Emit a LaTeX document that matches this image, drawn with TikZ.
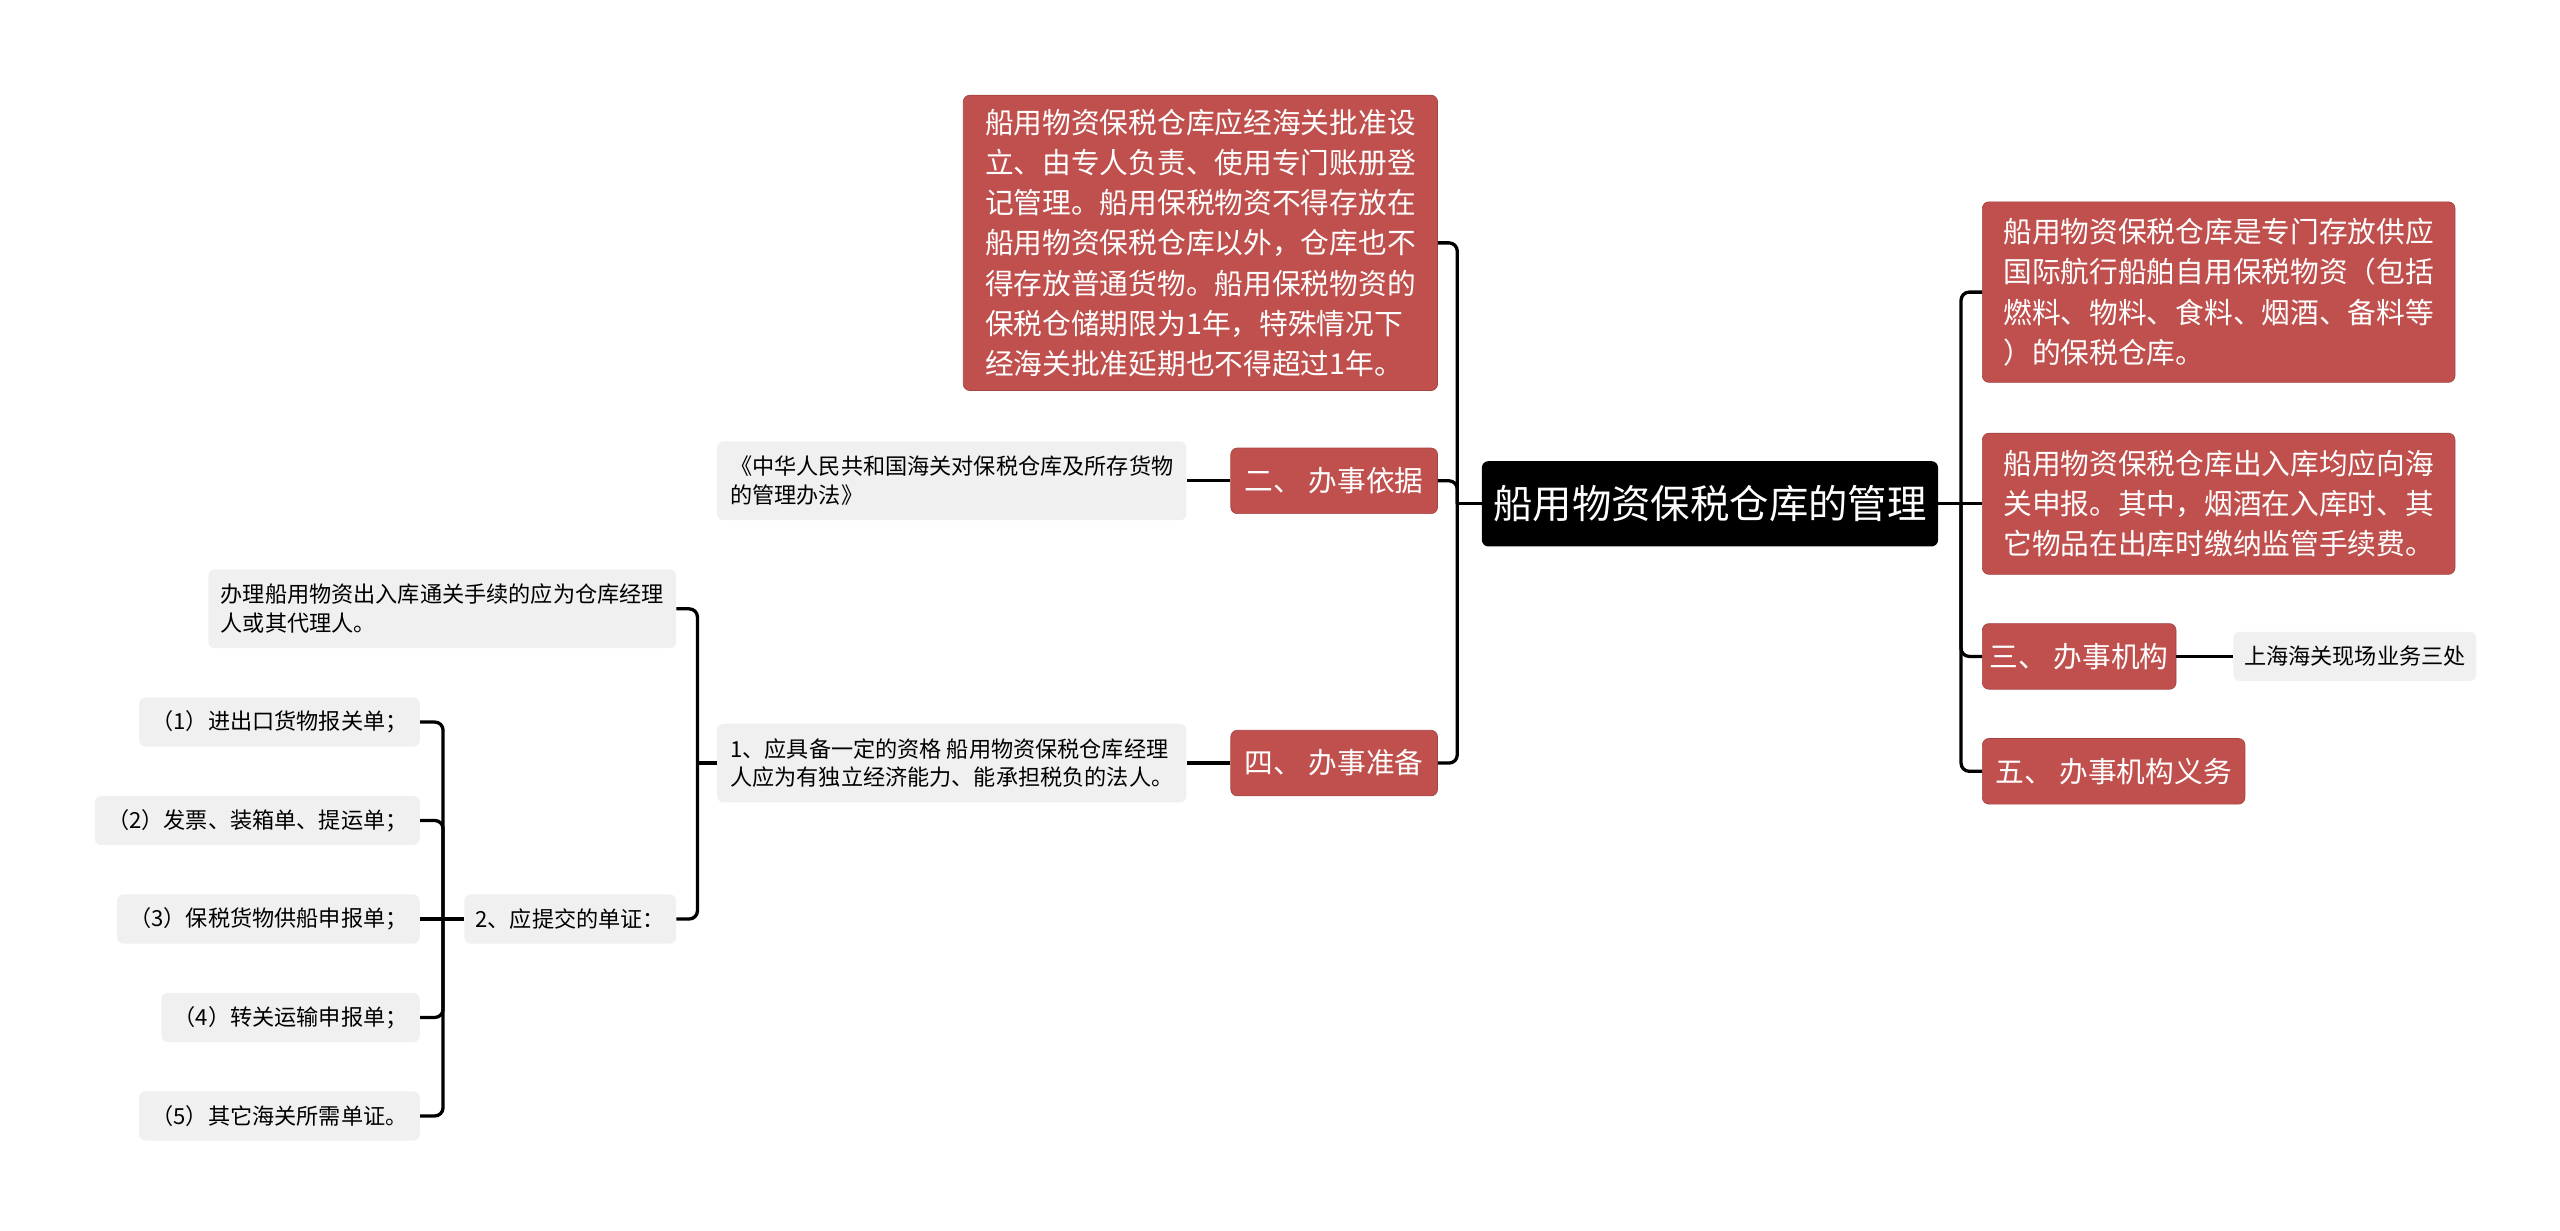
\documentclass[tikz,border=0pt]{standalone}
\usepackage{fontspec}
\setmainfont{Noto Sans CJK SC}
\usepackage{xcolor}
\usepackage{tikz}
\definecolor{branchred}{RGB}{192, 80, 77}
\definecolor{leafgrey}{RGB}{240, 240, 240}
\usetikzlibrary{positioning, calc}

\begin{document}
\begin{tikzpicture}[
    x=1pt, y=-1pt,
    topic/.style={rectangle, fill=black, text=white, rounded corners=4pt, minimum width=278pt, minimum height=52pt, inner sep=0pt, font=\fontsize{24}{30}\selectfont},
    branch/.style={rectangle, draw=branchred!85!black, fill=branchred, text=white, rounded corners=4pt, minimum height=40pt, inner sep=0pt, align=left, font=\fontsize{17.5}{24.5}\selectfont},
    leaf/.style={rectangle, fill=leafgrey, rounded corners=4pt, minimum height=30pt, inner sep=0pt, align=left, font=\fontsize{13.5}{17.5}\selectfont},
    link/.style={line width=2pt, rounded corners=5pt}
]
    \useasboundingbox (0,0) rectangle (1560,750);
    \fill[white] (0,0) rectangle (1560,750);

    % centre
    \node[topic] (root) at (1042,307) {船用物资保税仓库的管理};

    % left branches
    \node[branch, minimum width=289pt, minimum height=180pt] (b1) at (731.5,148) {船用物资保税仓库应经海关批准设\\立、由专人负责、使用专门账册登\\记管理。船用保税物资不得存放在\\船用物资保税仓库以外，仓库也不\\得存放普通货物。船用保税物资的\\保税仓储期限为1年，特殊情况下\\经海关批准延期也不得超过1年。};
    \node[branch, minimum width=126pt] (b2) at (813,293) {二、 办事依据};
    \node[branch, minimum width=126pt] (b4) at (813,465) {四、 办事准备};

    \node[leaf, minimum width=286pt, minimum height=48pt] (n1) at (580,293) {《中华人民共和国海关对保税仓库及所存货物\\的管理办法》};
    \node[leaf, minimum width=286pt, minimum height=48pt] (n2) at (580,465) {1、应具备一定的资格 船用物资保税仓库经理\\人应为有独立经济能力、能承担税负的法人。};
    \node[leaf, minimum width=285pt, minimum height=48pt] (n3) at (269.5,371) {办理船用物资出入库通关手续的应为仓库经理\\人或其代理人。};
    \node[leaf, minimum width=129pt] (n4) at (347.5,560) {2、应提交的单证：};

    \foreach \i/\y/\t in {1/440/进出口货物报关单；, 2/500/发票、装箱单、提运单；, 3/560/保税货物供船申报单；, 4/620/转关运输申报单；, 5/680/其它海关所需单证。}
        \node[leaf, anchor=east, inner xsep=7.5pt] (p\i) at (256,\y) {（\i）\t};

    % right branches
    \node[branch, minimum width=288pt, minimum height=110pt] (a1) at (1352,178) {船用物资保税仓库是专门存放供应\\国际航行船舶自用保税物资（包括\\燃料、物料、食料、烟酒、备料等\\）的保税仓库。};
    \node[branch, minimum width=288pt, minimum height=86pt] (a2) at (1352,307) {船用物资保税仓库出入库均应向海\\关申报。其中，烟酒在入库时、其\\它物品在出库时缴纳监管手续费。};
    \node[branch, minimum width=118pt] (b3) at (1267,400) {三、 办事机构};
    \node[branch, minimum width=160pt] (b5) at (1288,470) {五、 办事机构义务};
    \node[leaf, minimum width=148pt] (n5) at (1435,400) {上海海关现场业务三处};

    % connectors
    \coordinate (ls) at (888,307);
    \coordinate (rs) at (1195,307);
    \coordinate (ms) at (425,465);
    \coordinate (ss) at (270,560);

    \draw[link] (root.west) -- (ls);
    \foreach \n in {b1,b2,b4}
        \draw[link] (ls) |- (\n.east);
    \draw[link] (root.east) -- (rs);
    \foreach \n in {a1,b3,b5}
        \draw[link] (rs) |- (\n.west);
    \draw[link] (rs) -- (a2.west);

    \draw[link] (b2.west) -- (n1.east);
    \draw[link] (b4.west) -- (n2.east);
    \draw[link] (b3.east) -- (n5.west);

    \draw[link] (n2.west) -- (ms);
    \foreach \n in {n3,n4}
        \draw[link] (ms) |- (\n.east);
    \draw[link] (n4.west) -- (ss);
    \foreach \i in {1,2,4,5}
        \draw[link] (ss) |- (p\i.east);
    \draw[link] (ss) -- (p3.east);
\end{tikzpicture}
\end{document}
